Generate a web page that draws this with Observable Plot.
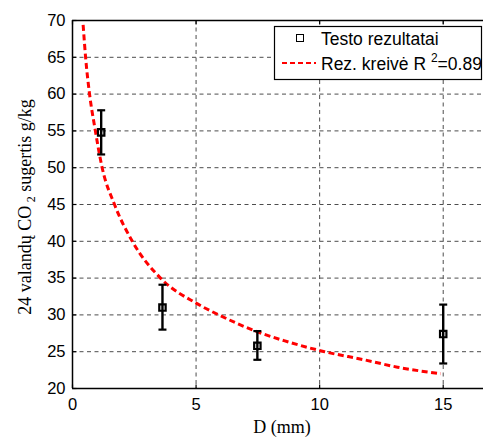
<!DOCTYPE html>
<html>
<head>
<meta charset="utf-8">
<script src="https://cdn.jsdelivr.net/npm/d3@7"></script>
<script src="https://cdn.jsdelivr.net/npm/@observablehq/plot@0.6"></script>
<style>
  body { margin: 0; background: white; }
  #chart { width: 483px; height: 438px; overflow: hidden; }
</style>
</head>
<body>
<div id="chart"></div>
<script>
// Measured data (D in mm, 24 h CO2 uptake g/kg)
const D = [1.16, 3.64, 7.48, 15];
const meanVal = [54.8, 31.0, 25.8, 27.4];
const lowVal = [51.8, 28.0, 23.9, 23.4];
const highVal = [57.8, 34.1, 27.8, 31.4];

// Fitted curve
const fitD = [0.43, 0.53, 0.69, 0.9, 1.2, 1.7, 2.42, 3.56, 5, 5.92, 7.48, 8.56, 10.2, 11.8, 13.15, 14.9];
const fitY = [69.4, 65, 60, 55.5, 50, 45, 40, 35, 31.6, 30, 27.7, 26.5, 25, 23.9, 22.9, 22.0];

const xTicks = [0, 5, 10, 15];
const yTicks = [20, 25, 30, 35, 40, 45, 50, 55, 60, 65, 70];

const legendLabels = ["Testo rezultatai", "Rez. kreivė R", "2", "=0.89"];
const xLabel = "D (mm)";
const yLabelParts = ["24 valandų CO", "2", " sugertis g/kg"];

const points = D.map((d, i) => ({D: d, mean: meanVal[i], lo: lowVal[i], hi: highVal[i]}));
const fit = fitD.map((d, i) => ({D: d, y: fitY[i]}));

const capSym = {draw(ctx, size) { const r = Math.sqrt(size / Math.PI); ctx.moveTo(-r, 0); ctx.lineTo(r, 0); }};
const tickRight = {draw(ctx, size) { const r = Math.sqrt(size / Math.PI); ctx.moveTo(0, 0); ctx.lineTo(r, 0); }};
const tickUp = {draw(ctx, size) { const r = Math.sqrt(size / Math.PI); ctx.moveTo(0, 0); ctx.lineTo(0, -r); }};
const tickDown = {draw(ctx, size) { const r = Math.sqrt(size / Math.PI); ctx.moveTo(0, 0); ctx.lineTo(0, r); }};

const gridStyle = {stroke: "#4d4d4d", strokeWidth: 1, strokeDasharray: "4,3.5"};

const chart = Plot.plot({
  width: 483,
  height: 438,
  marginLeft: 72,
  marginRight: 0,
  marginTop: 20,
  marginBottom: 50,
  style: {fontFamily: "'Liberation Sans', Arial, sans-serif", fontSize: "16.5px", background: "white", color: "black"},
  x: {domain: [0, 16.63], ticks: xTicks, tickSize: 0, tickPadding: 10, label: null},
  y: {domain: [20, 70], ticks: yTicks, tickSize: 0, tickPadding: 7, label: null},
  marks: [
    Plot.ruleX(xTicks.filter(d => d > 0), {x: d => d, ...gridStyle}),
    Plot.ruleY(yTicks.filter(d => d > 20 && d < 70), {y: d => d, ...gridStyle}),
    Plot.ruleX([0], {x: d => d, stroke: "black", strokeWidth: 1.5}),
    Plot.ruleY([20, 70], {y: d => d, stroke: "black", strokeWidth: 1.5}),
    Plot.dot(yTicks, {x: () => 0, y: d => d, symbol: tickRight, r: 4, stroke: "black", strokeWidth: 1.2}),
    Plot.dot(xTicks, {x: d => d, y: () => 20, symbol: tickUp, r: 4, stroke: "black", strokeWidth: 1.2}),
    Plot.dot(xTicks, {x: d => d, y: () => 70, symbol: tickDown, r: 4, stroke: "black", strokeWidth: 1.2}),
    Plot.line(fit, {x: "D", y: "y", stroke: "red", strokeWidth: 3, strokeDasharray: "6,3.5", strokeLinecap: "butt", curve: "monotone-x"}),
    Plot.ruleX(points, {x: "D", y1: "lo", y2: "hi", stroke: "black", strokeWidth: 2.4}),
    Plot.dot(points, {x: "D", y: "lo", symbol: capSym, r: 4, stroke: "black", strokeWidth: 2.2}),
    Plot.dot(points, {x: "D", y: "hi", symbol: capSym, r: 4, stroke: "black", strokeWidth: 2.2}),
    Plot.dot(points, {x: "D", y: "mean", symbol: "square", r: 3.6, stroke: "black", strokeWidth: 2.2, fill: "none"})
  ]
});

document.getElementById("chart").appendChild(chart);

const svg = d3.select(chart);

// Axis labels
svg.append("text")
  .attr("x", 282).attr("y", 433)
  .attr("text-anchor", "middle")
  .attr("font-family", "'Liberation Serif', 'Times New Roman', serif")
  .attr("font-size", 18)
  .attr("fill", "black")
  .text(xLabel);

const yl = svg.append("text")
  .attr("transform", "translate(31,207) rotate(-90)")
  .attr("text-anchor", "middle")
  .attr("font-family", "'Liberation Serif', 'Times New Roman', serif")
  .attr("font-size", 18)
  .attr("fill", "black");
yl.append("tspan").text(yLabelParts[0] + "\u2009");
yl.append("tspan").attr("font-size", 12).attr("dy", "0.35em").text(yLabelParts[1]);
yl.append("tspan").attr("dy", "-0.25em").text(yLabelParts[2]);

// Legend
const lg = svg.append("g")
  .attr("font-family", "'Liberation Sans', Arial, sans-serif")
  .attr("font-size", 17.5)
  .attr("text-anchor", "start");
lg.append("rect").attr("x", 274.5).attr("y", 26.5).attr("width", 207).attr("height", 53)
  .style("fill", "white").style("stroke", "black").style("stroke-width", "1.2px");
lg.append("rect").attr("x", 296.5).attr("y", 34.5).attr("width", 7).attr("height", 7)
  .style("fill", "none").style("stroke", "black").style("stroke-width", "1px");
lg.append("text").attr("x", 321).attr("y", 44.5).attr("text-anchor", "start").style("fill", "black").text(legendLabels[0]);
lg.append("line").attr("x1", 282).attr("x2", 316).attr("y1", 63).attr("y2", 63)
  .style("stroke", "red").style("stroke-width", "2.2px").style("stroke-dasharray", "5,3");
const t2 = lg.append("text").attr("x", 321).attr("y", 69.5).attr("text-anchor", "start").style("fill", "black");
t2.append("tspan").text(legendLabels[1] + " ");
t2.append("tspan").attr("font-size", 12).attr("dy", "-0.6em").text(legendLabels[2]);
t2.append("tspan").attr("dy", "0.45em").text(legendLabels[3]);
</script>
</body>
</html>
